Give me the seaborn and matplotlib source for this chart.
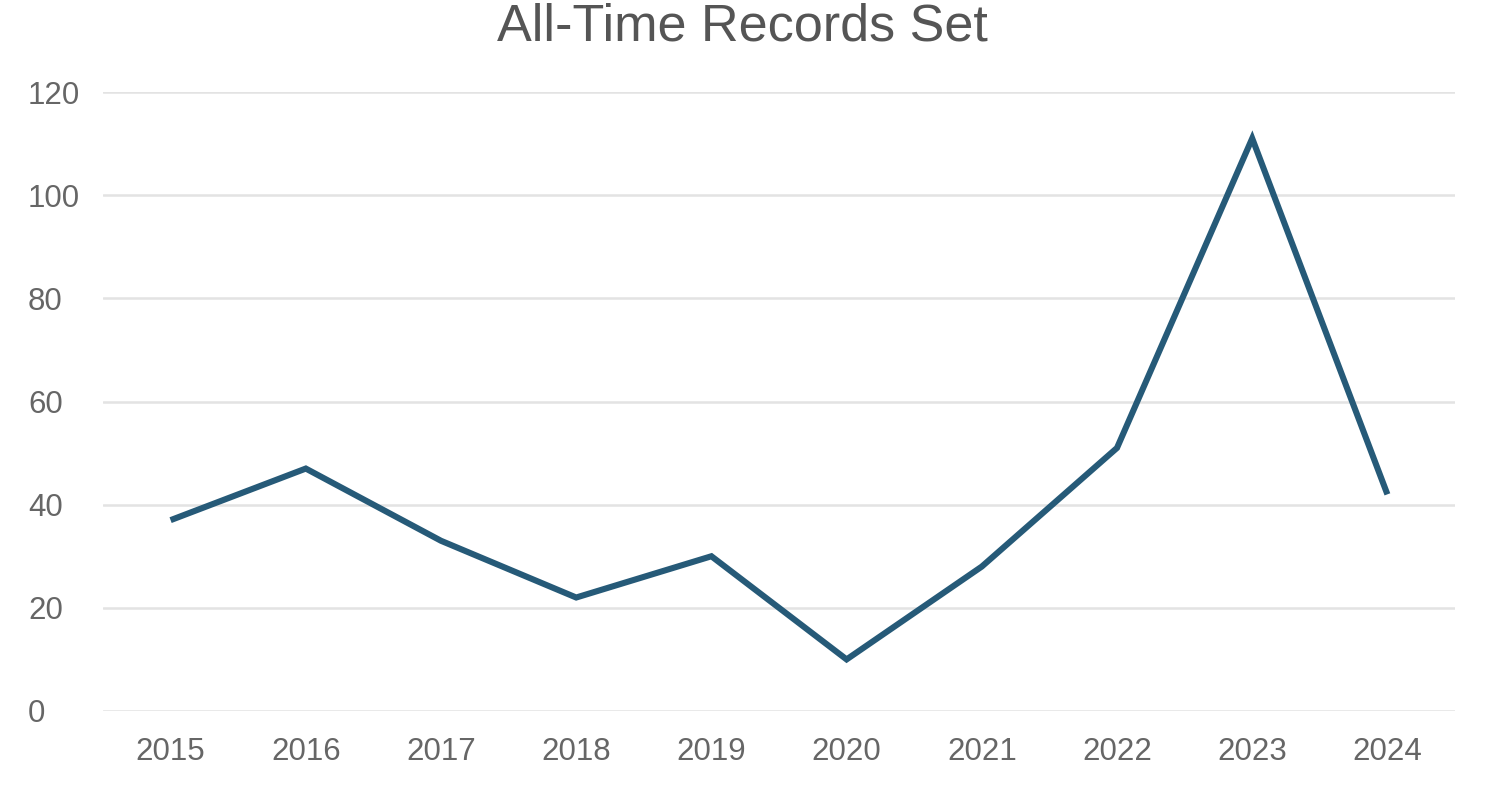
import matplotlib
matplotlib.use("Agg")
import matplotlib.pyplot as plt
import seaborn as sns
import pandas as pd

years = ["2015", "2016", "2017", "2018", "2019", "2020", "2021", "2022", "2023", "2024"]
records = [37, 47, 33, 22, 30, 10, 28, 51, 111, 42]
y_ticks = [0, 20, 40, 60, 80, 100, 120]
title = "All-Time Records Set"

sns.set_theme(style="white")
plt.rcParams["font.family"] = ["Liberation Sans", "DejaVu Sans"]

df = pd.DataFrame({"year": years, "records": records})

fig = plt.figure(figsize=(14.86, 8.02), dpi=100)
ax = fig.add_axes([103 / 1486, 1 - 711 / 802, (1455 - 103) / 1486, (711 - 92) / 802])

sns.lineplot(data=df, x="year", y="records", ax=ax, color="#265a78",
             linewidth=4.4, sort=False, solid_capstyle="butt", solid_joinstyle="miter")

ax.set_xlim(-0.5, len(years) - 0.5)
ax.set_ylim(0, 120)
ax.set_yticks(y_ticks)
ax.set_yticklabels([str(v) for v in y_ticks])
ax.grid(axis="y", color="#e3e3e3", linewidth=1.8)
ax.grid(axis="x", visible=False)
ax.set_axisbelow(True)
for s in ax.spines.values():
    s.set_visible(False)
ax.set_xlabel("")
ax.set_ylabel("")
ax.tick_params(axis="y", length=0, pad=54, labelsize=22.5, labelcolor="#666666")
for lbl in ax.get_yticklabels():
    lbl.set_horizontalalignment("left")
ax.tick_params(axis="x", length=0, pad=19, labelsize=22.5, labelcolor="#666666")

fig.text((494 + 990) / 2 / 1486, 1 - 27 / 802, title, ha="center", va="center",
         fontsize=37.5, color="#555555")

fig.savefig("out.png", dpi=100, facecolor="white")
